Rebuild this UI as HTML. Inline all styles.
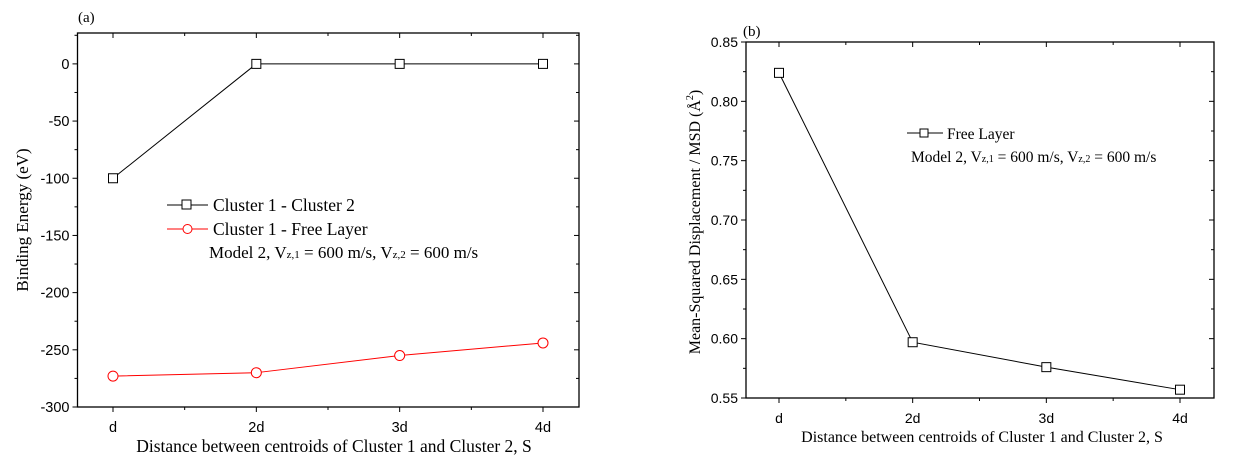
<!DOCTYPE html>
<html><head><meta charset="utf-8"><style>
body{margin:0;background:#fff;}
svg text{font-family:"Liberation Sans",Arial,sans-serif;}
.serif{font-family:"Liberation Serif","Times New Roman",serif;}
</style></head><body>
<svg id="s" width="1240" height="468" xmlns="http://www.w3.org/2000/svg">
<text x="78" y="22" class="serif" font-size="15">(a)</text>
<text x="743" y="36" class="serif" font-size="15">(b)</text>
<g id="ga"></g>
<g id="gb"></g>
<text x="334" y="452" text-anchor="middle" class="serif" font-size="17.5">Distance between centroids of Cluster 1 and Cluster 2, S</text>
<text transform="translate(28,220) rotate(-90)" text-anchor="middle" class="serif" font-size="17">Binding Energy (eV)</text>
<text x="982" y="442" text-anchor="middle" class="serif" font-size="16">Distance between centroids of Cluster 1 and Cluster 2, S</text>
<text transform="translate(700,222) rotate(-90)" text-anchor="middle" class="serif" font-size="16">Mean-Squared Displacement / MSD  (Å<tspan dy="-7" font-size="10">2</tspan><tspan dy="7">)</tspan></text>
<g>
<line x1="167" y1="205" x2="208" y2="205" stroke="#000"/>
<rect x="182" y="200" width="9" height="9" fill="#fff" stroke="#000"/>
<text x="213" y="211" class="serif" font-size="17.5">Cluster 1 - Cluster 2</text>
<line x1="167" y1="229" x2="208" y2="229" stroke="#f00"/>
<circle cx="187.5" cy="229" r="4.5" fill="#fff" stroke="#f00"/>
<text x="213" y="235" class="serif" font-size="17.5">Cluster 1 - Free Layer</text>
<text x="209" y="258" class="serif" font-size="17">Model 2, V<tspan font-size="11">z,1</tspan> = 600 m/s, V<tspan font-size="11">z,2</tspan> = 600 m/s</text>
</g>
<g>
<line x1="907" y1="133" x2="943" y2="133" stroke="#000"/>
<rect x="920" y="129" width="8" height="8" fill="#fff" stroke="#000"/>
<text x="947" y="139" class="serif" font-size="15.5">Free Layer</text>
<text x="911" y="162" class="serif" font-size="15.5">Model 2, V<tspan font-size="10">z,1</tspan> = 600 m/s,  V<tspan font-size="10">z,2</tspan> = 600 m/s</text>
</g>
</svg>
<script>
const cats=['d','2d','3d','4d'];
const seriesA1=[-100,0,0,0];
const seriesA2=[-273,-270,-255,-244];
const ticksA=[0,-50,-100,-150,-200,-250,-300];
const seriesB=[0.824,0.597,0.576,0.557];
const ticksB=[0.85,0.80,0.75,0.70,0.65,0.60,0.55];
const NS='http://www.w3.org/2000/svg';
function mk(p,t,a){const e=document.createElementNS(NS,t);for(const k in a)e.setAttribute(k,a[k]);p.appendChild(e);return e;}
function panel(g,L,R,T,B,x0,x1,ymin,ymax,ticks,minorStep,fmt,fs){
  const xs=i=>x0+(x1-x0)*i/(cats.length-1);
  const ys=v=>B-(v-ymin)/(ymax-ymin)*(B-T);
  mk(g,'rect',{x:L,y:T,width:R-L,height:B-T,fill:'none',stroke:'#000','stroke-width':1.3});
  cats.forEach((c,i)=>{const x=xs(i);
    mk(g,'line',{x1:x,y1:B,x2:x,y2:B+5,stroke:'#000'});mk(g,'line',{x1:x,y1:T,x2:x,y2:T+5,stroke:'#000'});
    const t=mk(g,'text',{x:x,y:B+25,'text-anchor':'middle','font-size':fs});t.textContent=c;
    
    
    if(i<cats.length-1){const m=(x+xs(i+1))/2;mk(g,'line',{x1:m,y1:B,x2:m,y2:B+3,stroke:'#000'});mk(g,'line',{x1:m,y1:T,x2:m,y2:T+3,stroke:'#000'});}
  });
  ticks.forEach(v=>{const y=ys(v);
    mk(g,'line',{x1:L-5,y1:y,x2:L,y2:y,stroke:'#000'});mk(g,'line',{x1:R-5,y1:y,x2:R,y2:y,stroke:'#000'});
    const t=mk(g,'text',{x:L-8,y:y+5,'text-anchor':'end','font-size':fs});t.textContent=fmt(v);
    
    
    const m=v+minorStep; if(m<ymax){const ym=ys(m);mk(g,'line',{x1:L-3,y1:ym,x2:L,y2:ym,stroke:'#000'});mk(g,'line',{x1:R-3,y1:ym,x2:R,y2:ym,stroke:'#000'});}
  });
  return {xs,ys};
}
function series(g,ax,vals,color,shape,name){
  const pts=vals.map((v,i)=>ax.xs(i)+','+ax.ys(v)).join(' ');
  const pl=mk(g,'polyline',{points:pts,fill:'none',stroke:color,'stroke-width':1});
  
  
  vals.forEach((v,i)=>{const x=ax.xs(i),y=ax.ys(v);let m;
    if(shape==='sq')m=mk(g,'rect',{x:x-4.5,y:y-4.5,width:9,height:9,fill:'#fff',stroke:color});
    else m=mk(g,'circle',{cx:x,cy:y,r:5,fill:'#fff',stroke:color});
    
    
  });
}
const ga=document.getElementById('ga'),gb=document.getElementById('gb');
const axA=panel(ga,77.5,579,33,407,113,543,-300,27,ticksA,25,v=>String(v),14.5);
series(ga,axA,seriesA1,'#000','sq','cluster1-cluster2');
series(ga,axA,seriesA2,'#f00','ci','cluster1-free-layer');
const axB=panel(gb,746,1214,42,398,779,1180,0.55,0.85,ticksB,0.025,v=>v.toFixed(2),14);
series(gb,axB,seriesB,'#000','sq','free-layer');
</script>
</body></html>
